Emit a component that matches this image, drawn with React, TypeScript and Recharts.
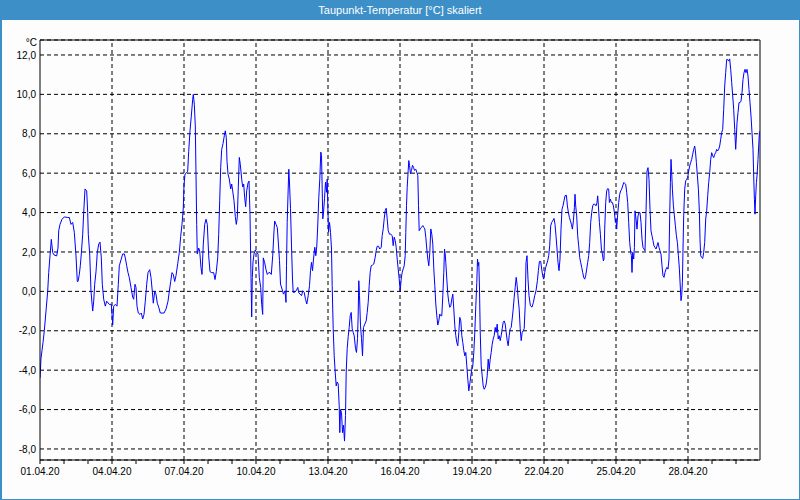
import React from "react";
import { LineChart, Line, XAxis, YAxis, CartesianGrid, ReferenceLine } from "recharts";

// Hours since 01.04.20 00:00 and dew point temperature in °C
const week1: [number, number][] = [
  [0,-4.4],[1,-3.4],[2,-3.0],[3,-2.6],[4.3,-2.0],[6,-1.0],[7.7,0.0],[8.7,0.95],[10,1.8],[11.3,2.64],[12.7,1.97],[14,1.85],[16.7,1.8],[18,2.2],[18.7,3.07],[20,3.4],[22,3.66],[24.3,3.78],[27.7,3.75],[29.3,3.75],[31,3.4],[32.7,3.5],[34.3,3.0],[36,1.8],[37.3,0.5],[38,0.5],[39.3,0.86],[40.3,1.3],[41.3,1.9],[42.7,2.9],[43.7,4.0],[45,5.2],[46.7,5.1],[47.7,4.0],[48.3,2.9],[49.7,1.9],[51,0.0],[52.7,-1.0],[53.7,-0.5],[54.7,0.36],[56,1.0],[57.3,1.97],[58.7,2.4],[60,2.5],[61.3,1.7],[62.3,0.36],[63.7,-0.4],[65.3,-0.75],[66.7,-0.5],[69.3,-0.66],[71.3,-0.66],[72,-1.17],[72.7,-1.7],[73.7,-0.75],[75.3,-0.66],[77,-0.75],[78.3,0.36],[79.3,1.3],[81,1.6],[82.7,1.9],[84.3,1.9],[85.3,1.7],[86.7,1.3],[88,0.95],[89.3,0.7],[91,0.2],[92.7,-0.3],[93.7,-0.4],[95,0.36],[96,0.2],[97,-0.75],[98.3,-1.1],[100,-1.17],[101.3,-1.1],[102.7,-1.4],[104,-1.17],[105.3,-0.5],[106.7,0.36],[108,0.95],[109.7,1.1],[111,0.7],[112.3,0.0],[113.3,-0.6],[114.7,0.0],[116,-0.15],[117.3,-0.6],[118.7,-0.8],[120.3,-1.1],[122,-1.1],[124,-1.1],[126,-0.9],[128,-0.5],[129.3,0.0],[130.7,0.5],[132,0.95],[133.3,0.86],[134.7,0.5],[136,0.8],[137.7,1.4],[139.3,1.97],[140.7,2.8],[142,3.4],[143.3,4.25],[144,5.4],[145,5.95],[146.3,6.0],[147.7,6.1],[148.7,7.1],[150,8.15],[151.3,8.9],[152.7,9.75],[153.3,10.0],[154.3,9.5],[155.3,8.4],[156,5.95],[156.7,3.4],[157.3,1.9],[158.7,2.2],[159.7,2.05],[161,1.2],[162,0.86],[163.3,2.4],[164.7,3.4],[166,3.66],[167.3,3.4]
];
const week2: [number, number][] = [
  [168.7,1.8],[170,1.0],[171.7,0.95],[173.7,0.95],[175,0.6],[176.3,1.0],[177.7,1.7],[178.7,2.9],[179.7,4.6],[180.7,6.3],[181.7,7.2],[183,7.5],[184.3,7.9],[185.3,8.15],[186.3,7.8],[187,6.6],[188,5.95],[189.3,5.7],[190.7,5.2],[191.7,5.45],[192.7,5.1],[194,4.6],[195.3,3.8],[196.3,3.4],[197.3,3.75],[198.3,5.3],[199.3,6.8],[200.3,6.45],[201.7,5.7],[202.7,5.3],[203.7,5.45],[204.7,4.75],[205.7,4.3],[206.7,5.1],[208,5.5],[209,5.6],[210,3.9],[211,0.7],[211.7,-1.3],[212.3,0.7],[213,1.5],[214,1.9],[215.3,2.1],[216.7,1.97],[218,1.9],[219.3,0.7],[220.7,0.2],[221.7,-0.66],[222.7,-1.17],[223.3,1.7],[224.7,1.45],[226,1.1],[227.3,0.86],[228.7,0.95],[230,0.95],[231.3,0.86],[232.7,1.8],[234,3.07],[234.7,3.57],[236,3.4],[237.3,3.24],[238.7,2.2],[239.5,1.56],[240.5,0.37],[242,0.12],[243.5,-0.14],[245,0.03],[246,-0.56],[246.5,1.3],[247.2,3.5],[248.2,5.2],[248.8,6.2],[249.5,5.5],[250.5,4.2],[251.5,2.3],[252.5,0.63],[253.2,-0.05],[254.5,-0.05],[256.2,0.03],[257.8,0.2],[258.8,-0.08],[260.2,-0.14],[261.5,-0.22],[262.8,0.03],[264.2,-0.05],[265.5,-0.4],[266.8,-0.64],[268.2,-0.22],[269.5,0.29],[270.5,1.05],[271.5,1.47],[272.5,1.05],[273.5,1.64],[274.8,2.24],[275.8,1.81],[276.8,2.3],[277.8,3.42],[278.8,4.78],[279.8,5.7],[280.8,7.07],[281.5,6.9],[282.2,5.2],[282.8,3.68],[283.5,4.0],[284.5,4.7],[285.5,5.54],[286.5,5.03],[287.2,5.7],[287.8,4.36],[288.5,3.0],[289.5,3.5],[290.5,3.0],[291.5,2.15],[292.2,0.29],[293.2,-1.9],[294.2,-3.27],[295.2,-4.1],[296.2,-4.8],[297.2,-4.6],[298.2,-4.7],[299.2,-5.8],[299.8,-7.17],[300.5,-6.0],[301.5,-6.15],[302.5,-7.17],[303.5,-6.8],[304.5,-7.6],[305.5,-6.3],[306.2,-4.1],[307.2,-2.9],[308.2,-2.3],[309.2,-1.83],[310.2,-1.24],[311.2,-1.07],[312.2,-1.9],[313.2,-2.08],[314.2,-2.25],[315.5,-2.9],[316.5,-3.1],[317.5,-2.4],[318.2,-1.15],[318.8,0.54],[319.5,-0.22],[320.5,-1.75],[321.5,-2.4],[322.5,-3.27],[323.5,-1.83],[324.8,-1.66],[326.2,-1.5],[327.2,-1.07],[328.2,-0.56],[329.2,0.29],[330.2,0.97],[331.2,1.3],[332.5,1.34],[333.8,1.39],[335.2,1.73]
];
const week3: [number, number][] = [
  [336.2,2.07],[337.2,2.29],[338.5,2.29],[339.8,2.15],[341.2,2.24],[342.2,2.83],[343.2,3.17],[344.2,3.68],[345.2,4.1],[346.2,4.22],[347.2,3.68],[348.2,3.08],[349.5,2.9],[350.8,2.9],[352.2,2.83],[353.2,2.32],[354.2,2.75],[355.2,2.58],[356.2,2.24],[357.2,1.64],[358.2,1.14],[359.2,0.63],[360.2,0.03],[361.2,0.63],[362.2,0.97],[363.2,1.14],[364.2,1.3],[365.2,1.81],[365.8,3.0],[366.5,4.36],[367.2,5.29],[368.2,6.14],[368.8,6.64],[369.5,6.4],[370.5,5.97],[371.5,6.14],[372.5,6.4],[373.5,6.3],[374.5,6.14],[375.8,6.2],[376.8,6.05],[377.8,5.88],[378.5,4.36],[379.2,3.08],[380.2,3.17],[381.5,3.25],[382.8,3.34],[383.8,3.25],[384.8,3.17],[385.8,2.75],[386.8,2.15],[387.8,1.64],[388.8,1.3],[389.8,1.98],[390.8,3.17],[391.8,2.9],[392.8,2.4],[393.8,1.14],[394.8,0.29],[395.8,-0.64],[396.8,-1.24],[397.8,-1.71],[398.8,-1.5],[399.8,-1.15],[400.8,-1.24],[401.8,-1.24],[402.8,-0.22],[403.8,0.97],[404.5,2.15],[405.2,1.9],[405.8,1.47],[406.8,0.63],[407.8,-0.14],[408.8,-0.56],[409.8,-0.81],[410.8,-0.73],[411.8,-0.39],[412.8,-0.14],[413.8,-0.9],[414.8,-1.75],[415.8,-2.25],[416.8,-2.6],[417.8,-2.76],[418.8,-2.08],[419.8,-1.32],[420.8,-1.5],[421.8,-2.25],[422.8,-2.6],[423.8,-3.0],[424.8,-3.27],[425.8,-3.1],[426.8,-3.78],[427.8,-4.46],[428.8,-5.05],[429.8,-4.7],[430.8,-4.29],[431.8,-3.95],[432.8,-3.78],[433.8,-3.1],[434.8,-2.08],[435.8,-0.73],[436.8,0.46],[437.5,1.64],[438.2,1.3],[438.8,1.47],[439.5,0.12],[440.2,-2.0],[441.2,-3.78],[442.2,-4.29],[443.2,-4.8],[444.2,-4.97],[445.2,-4.88],[446.2,-4.7],[447.2,-4.29],[448.2,-3.44],[449.2,-3.95],[450.2,-3.44],[451.2,-3.1],[452.2,-2.68],[453.2,-2.42],[454.2,-2.25],[455.2,-1.83],[456.2,-2.08],[457.2,-1.66],[458.2,-2.42],[459.2,-2.25],[460.2,-2.5],[461.2,-2.25],[462.2,-1.9],[463.2,-1.57],[464.2,-1.5],[465.2,-1.66],[466.2,-2.08],[467.2,-2.5],[468.2,-2.76],[469.2,-2.25],[470.2,-1.9],[471.2,-1.83],[472.2,-1.4],[473.2,-0.9],[474.2,-0.3],[475.2,0.2],[476.2,0.71],[477.2,0.29],[478.2,-0.39],[479.2,-0.9],[480.2,-1.9],[481.2,-2.5],[482.2,-2.08],[483.2,-2.0],[484.2,-1.9],[485.2,-0.73],[486,1.47],[487,1.81],[488,0.62],[489,-0.22],[490.4,-0.73],[492,-0.8],[493.4,-0.56],[494.7,-0.22],[496,0.03],[497.4,0.54],[498.4,1.05],[499.4,1.52],[500.7,1.52],[501.7,1.13],[502.7,0.79],[503.7,0.62]
];
const week4: [number, number][] = [
  [504.7,0.96],[505.7,1.22],[506.7,1.39],[507.7,1.55],[508.7,1.81],[509.7,2.31],[510.7,3.33],[511.7,3.5],[512.7,3.58],[514,3.7],[515,3.41],[516,2.82],[517,2.15],[518,1.47],[519,1.05],[520,1.64],[521,3.16],[522,4.17],[523,4.34],[524,4.6],[525,4.85],[526.4,4.88],[527.4,4.34],[528.4,4.0],[529.4,3.75],[530.4,3.58],[531.4,3.41],[532.4,3.16],[533.4,3.58],[534.4,4.26],[535,4.93],[535.7,4.34],[536.7,3.83],[537.7,2.82],[538.7,2.31],[539.7,1.72],[540.7,1.47],[541.7,1.22],[542.7,0.96],[543.7,0.71],[544.7,0.62],[545.7,0.79],[546.7,1.13],[547.7,1.47],[548.7,1.81],[549.7,2.48],[550.7,3.5],[551.7,4.0],[552.7,4.34],[553.7,4.43],[554.7,4.43],[556,4.34],[557,4.51],[557.7,4.85],[558.4,4.34],[559.4,3.5],[560.4,2.9],[561.4,2.15],[562.4,1.89],[563.4,1.55],[564,1.64],[564.7,3.16],[565.7,4.51],[566.7,5.1],[567.7,5.22],[568.7,5.19],[569.4,4.51],[570.4,4.68],[571.4,4.51],[572.4,4.51],[573.4,4.34],[574.4,4.0],[575.4,3.5],[576,3.67],[576.7,3.16],[577.7,3.92],[578.7,4.51],[579.7,4.93],[580.7,5.1],[581.7,5.19],[582.7,5.35],[583.7,5.52],[584.7,5.49],[585.7,5.44],[586.7,5.02],[587.7,4.51],[588.7,3.5],[589.7,2.48],[590.7,1.98],[591.4,1.81],[592,0.96],[592.7,1.98],[593.7,1.64],[594.4,2.23],[595,4.09],[596,3.67],[597,3.16],[598,3.83],[599,4.0],[600,4.0],[601,3.5],[602,2.65],[603,2.23],[604,2.15],[605,2.06],[606,4.0],[607,6.11],[608,6.28],[609,5.69],[610,4.17],[611,3.07],[612,2.82],[613,2.57],[614,2.31],[615,2.23],[616,2.15],[617,2.31],[618,2.48],[619,2.23],[620,2.06],[621,1.89],[622,1.3],[623,0.79],[624,0.71],[625,0.96],[626,1.13],[627,1.22],[628,1.13],[629,1.64],[629.7,3.83],[630.4,5.52],[631,6.7],[631.7,6.03],[632.4,5.19],[633.4,4.34],[634.4,3.83],[635.4,3.33],[636.4,2.82],[637.4,2.48],[638.4,1.81],[639.4,1.13],[640.4,0.12],[641,-0.47],[641.7,-0.22],[642.4,0.46],[643,2.15],[643.7,3.83],[644.7,5.19],[645.7,5.61],[646.7,5.69],[647.7,5.78],[648.7,6.11],[649.7,6.37],[650.7,6.54],[651.7,6.7],[652.7,6.96],[653.7,7.21],[654.7,7.38],[655.4,7.13],[656.4,6.54],[657.4,5.86],[658.4,5.19],[659.4,4.0],[660,2.65],[660.7,1.81],[661.7,1.72],[662.7,1.67],[663.7,1.98],[664.7,2.48],[665.7,3.67],[666.7,4.09],[667.7,4.85],[668.7,5.52],[669.7,6.03],[670.7,6.7],[671.7,7.04],[672.7,6.88],[673.7,6.79],[674.7,6.96],[675.7,7.04],[676.7,7.21],[677.7,7.13],[678.7,7.21],[679.7,7.38],[680.7,7.72],[681.7,8.06],[682.7,8.23],[683.7,9.24],[684.7,10.42],[685.7,11.1],[686.7,11.77],[687.7,11.77],[688.7,11.69],[689.7,11.8],[690.7,11.27],[691.7,10.6],[692.7,9.92],[693.7,9.24],[694.7,8.23],[695.7,7.21],[696.4,7.89],[697,8.56],[698,9.07],[699,9.58],[700,9.58],[701,9.66],[702,10.08],[703,10.76],[704,11.1],[705,11.27],[706,11.1],[707,11.27],[708,10.93],[709,10.25],[710,9.58],[711,8.9],[712,8.06],[713,7.21],[713.7,5.86],[714.4,4.68],[715,3.92],[715.7,4.85],[716.4,5.52],[717,5.86],[718,6.7],[718.7,7.38],[719.4,8.06],[720,8.14]
];

const dateLabels = ["01.04.20","04.04.20","07.04.20","10.04.20","13.04.20","16.04.20","19.04.20","22.04.20","25.04.20","28.04.20"];
const yTicks = [-8, -6, -4, -2, 0, 2, 4, 6, 8, 10, 12];
const Y_MIN = -8.56;
const Y_MAX = 12.76;
const X_MAX = 720;

const data = [...week1, ...week2, ...week3, ...week4].map(([h, v]) => ({ h, v }));
const dayTicks = Array.from({ length: 30 }, (_, i) => i * 24);
const majorTicks = dateLabels.map((_, i) => i * 72);

const fontFamily = '"Liberation Sans", Arial, sans-serif';

export default function App() {
  return (
    <div style={{ position: "absolute", left: 0, top: 0, width: 800, height: 500, background: "#fcfdfc", fontFamily, overflow: "hidden" }}>
      <div style={{ position: "absolute", left: 0, top: 0, width: 800, height: 20, background: "#3d8fc8", color: "#ffffff", fontSize: 11, lineHeight: "20px", textAlign: "center" }}>
        Taupunkt-Temperatur [°C] skaliert
      </div>
      <div style={{ position: "absolute", left: 0, top: 37, width: 37, textAlign: "right", fontSize: 10, lineHeight: "12px", color: "#000" }}>°C</div>
      <div style={{ position: "absolute", left: 0, top: 0 }}>
        <LineChart width={800} height={500} data={data} margin={{ top: 40, right: 40, bottom: 10, left: 0 }}>
          <CartesianGrid horizontal={true} vertical={false} stroke="#000" strokeDasharray="4 3" />
          <XAxis
            dataKey="h"
            type="number"
            domain={[0, X_MAX]}
            ticks={dayTicks}
            interval={0}
            allowDataOverflow
            height={30}
            tickSize={4}
            tickMargin={4}
            stroke="#000"
            tick={{ fill: "#000", fontSize: 10 }}
            tickFormatter={(v: number) => (v % 72 === 0 ? dateLabels[v / 72] : "")}
          />
          <YAxis
            type="number"
            domain={[Y_MIN, Y_MAX]}
            ticks={yTicks}
            interval={0}
            allowDataOverflow
            width={40}
            tickLine={false}
            tickSize={0}
            tickMargin={4}
            stroke="#000"
            tick={{ fill: "#000", fontSize: 10 }}
            tickFormatter={(v: number) => v.toFixed(1).replace(".", ",")}
          />
          {majorTicks.slice(1).map((x) => (
            <ReferenceLine key={x} x={x} stroke="#000" strokeDasharray="4 3" />
          ))}
          <ReferenceLine x={X_MAX} stroke="#000" />
          <ReferenceLine y={Y_MAX} stroke="#000" />
          <Line type="linear" dataKey="v" stroke="#0000ff" strokeWidth={1} dot={false} isAnimationActive={false} />
        </LineChart>
      </div>
      <div style={{ position: "absolute", left: 0, top: 0, width: 800, height: 500, boxSizing: "border-box", borderStyle: "solid", borderColor: "#3d8fc8", borderWidth: "0 1px 1px 2px", pointerEvents: "none" }} />
    </div>
  );
}
